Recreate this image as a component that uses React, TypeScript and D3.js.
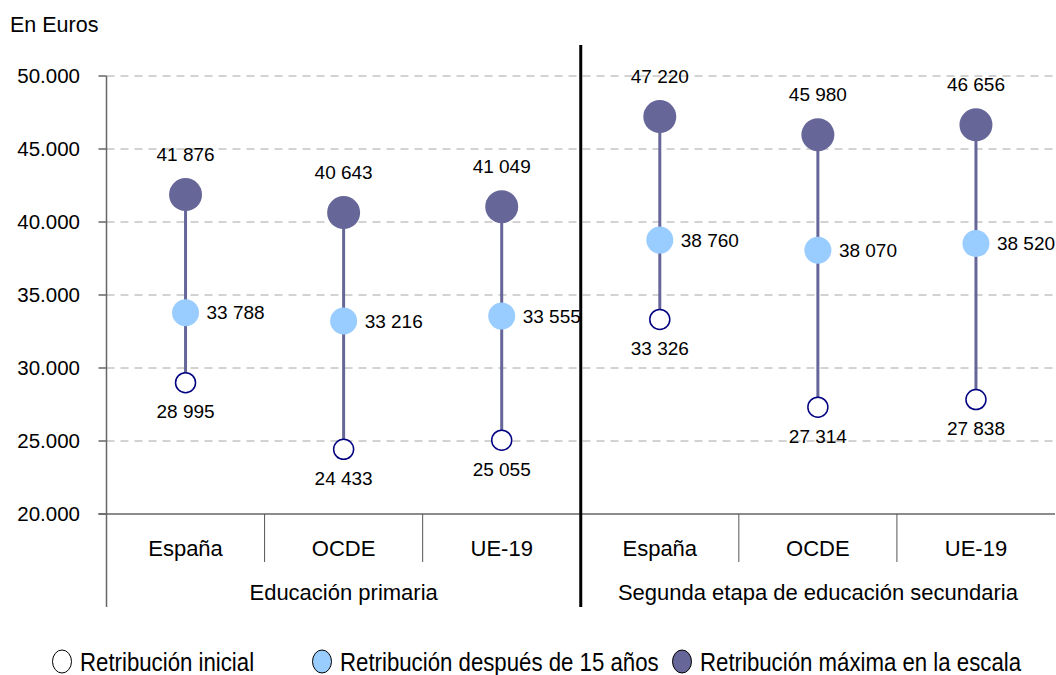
import * as d3 from 'd3';

const categories = ['España', 'OCDE', 'UE-19', 'España', 'OCDE', 'UE-19'];
const groups = ['Educación primaria', 'Segunda etapa de educación secundaria'];
const inicial = [28995, 24433, 25055, 33326, 27314, 27838];
const despues15 = [33788, 33216, 33555, 38760, 38070, 38520];
const maxima = [41876, 40643, 41049, 47220, 45980, 46656];
const yTicks = [20000, 25000, 30000, 35000, 40000, 45000, 50000];
const legendLabels = ['Retribución inicial', 'Retribución después de 15 años', 'Retribución máxima en la escala'];

const W = 1056;
const H = 675;
const FONT = '"Liberation Sans", Arial, sans-serif';
const DARK = '#666699';
const LIGHT = '#99ccff';
const NAVY = '#000080';

const fmtTick = (v: number) => d3.format(',')(v).replace(/,/g, '.');
const fmtVal = (v: number) => d3.format(',')(v).replace(/,/g, ' ');

export default function App() {
  const left = 106.5;
  const right = 1055;
  const x = d3
    .scaleBand<number>()
    .domain(d3.range(categories.length))
    .range([left, right])
    .padding(0);
  const y = d3.scaleLinear().domain([20000, 50000]).range([514, 76]);
  const bw = x.bandwidth();
  const cx = (i: number) => (x(i) ?? 0) + bw / 2;
  const axisY = y(20000);
  const tableBottom = 607;
  const midSep = x(3) ?? 0;

  // legend marker centres
  const legendX = [62, 322, 682];
  const legendFill = ['#ffffff', LIGHT, DARK];

  return (
    <svg
      width={W}
      height={H}
      style={{ position: 'absolute', left: 0, top: 0, background: '#fff' }}
      fontFamily={FONT}
    >
      <text x={10} y={32} fontSize={21.5} fill="#000">
        En Euros
      </text>

      {/* grid lines */}
      {yTicks.slice(1).map((t) => (
        <line
          key={t}
          x1={left}
          x2={right}
          y1={y(t)}
          y2={y(t)}
          stroke="#a6a6a6"
          strokeDasharray="8,6"
          strokeWidth={1}
        />
      ))}

      {/* y axis */}
      <line x1={left} x2={left} y1={y(50000)} y2={tableBottom} stroke="#666" strokeWidth={1.5} />
      {yTicks.map((t) => (
        <g key={t}>
          <line x1={left - 8} x2={left} y1={y(t)} y2={y(t)} stroke="#666" strokeWidth={1.5} />
          <text x={80} y={y(t)} dy="0.35em" textAnchor="end" fontSize={20.5} fill="#000">
            {fmtTick(t)}
          </text>
        </g>
      ))}

      {/* x axis table */}
      <line x1={left - 8} x2={right} y1={axisY} y2={axisY} stroke="#666" strokeWidth={1.5} />
      {categories.map((c, i) => (
        <g key={i}>
          {i % 3 !== 0 && (
            <line x1={x(i)} x2={x(i)} y1={axisY} y2={562} stroke="#555" strokeWidth={1} />
          )}
          <text x={cx(i)} y={548} dy="0.35em" textAnchor="middle" fontSize={22} fill="#000">
            {c}
          </text>
        </g>
      ))}
      {groups.map((g, i) => (
        <text
          key={g}
          x={(cx(i * 3) + cx(i * 3 + 2)) / 2}
          y={592}
          dy="0.35em"
          textAnchor="middle"
          fontSize={22}
          fill="#000"
        >
          {g}
        </text>
      ))}
      <line x1={midSep} x2={midSep} y1={45} y2={tableBottom} stroke="#000" strokeWidth={3} />

      {/* marks */}
      {categories.map((_, i) => (
        <g key={'m' + i}>
          <line
            x1={cx(i)}
            x2={cx(i)}
            y1={y(inicial[i])}
            y2={y(maxima[i])}
            stroke={DARK}
            strokeWidth={3}
          />
          <circle cx={cx(i)} cy={y(inicial[i])} r={10} fill="#fff" stroke={NAVY} strokeWidth={1.5} />
          <circle cx={cx(i)} cy={y(despues15[i])} r={13.5} fill={LIGHT} />
          <circle cx={cx(i)} cy={y(maxima[i])} r={16.5} fill={DARK} />
          <text
            x={cx(i)}
            y={y(maxima[i]) - 40}
            dy="0.35em"
            textAnchor="middle"
            fontSize={19}
            fill="#000"
          >
            {fmtVal(maxima[i])}
          </text>
          <text
            x={cx(i) + 21}
            y={y(despues15[i])}
            dy="0.35em"
            textAnchor="start"
            fontSize={19}
            fill="#000"
          >
            {fmtVal(despues15[i])}
          </text>
          <text
            x={cx(i)}
            y={y(inicial[i]) + 29}
            dy="0.35em"
            textAnchor="middle"
            fontSize={19}
            fill="#000"
          >
            {fmtVal(inicial[i])}
          </text>
        </g>
      ))}

      {/* legend */}
      {legendLabels.map((l, i) => (
        <g key={l}>
          <ellipse
            cx={legendX[i]}
            cy={661.5}
            rx={9.5}
            ry={11.5}
            fill={legendFill[i]}
            stroke="#000"
            strokeWidth={1}
          />
          <text
            transform={`translate(${legendX[i] + 18},662) scale(0.855,1)`}
            dy="0.35em"
            fontSize={26}
            fill="#000"
          >
            {l}
          </text>
        </g>
      ))}
    </svg>
  );
}
